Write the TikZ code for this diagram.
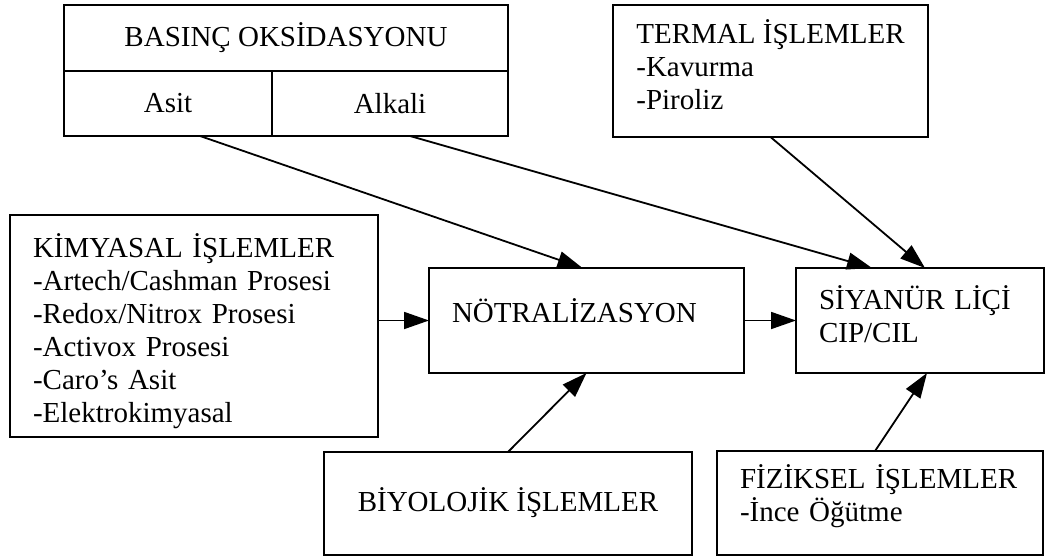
\documentclass[tikz,border=0pt]{standalone}
\usepackage{fontspec}
\setmainfont{Liberation Serif}
\usetikzlibrary{arrows.meta,positioning}
\hyphenpenalty=10000
\exhyphenpenalty=10000

\begin{document}
\begin{tikzpicture}[x=1pt,y=-1pt]
\tikzset{
block/.style={rectangle,draw=black,line width=2.8pt,inner ysep=0pt,outer sep=0pt,
  font=\fontsize{29}{33}\selectfont},
leftblock/.style={block,align=left,inner xsep=23pt},
myarrow/.style={-{Triangle[length=25pt,width=17pt]}, line width=1.8pt},
}
\clip (0,0) rectangle (1049,559);

% pressure oxidation table
\node [block, minimum width=444pt, minimum height=66pt] (basinc) at (286,38) {BASIN\c{C} OKS\.IDASYONU};
\node [block, minimum width=208pt, minimum height=65pt] (asit) at (168,103.5) {Asit};
\node [block, minimum width=236pt, minimum height=65pt] (alkali) at (390,103.5) {Alkali};

\node [block, align=left, minimum width=315pt, minimum height=132pt, text height=91pt, text depth=13pt] (termal) at (770.5,71)
  {TERMAL \.I\c{S}LEMLER\\-Kavurma\\-Piroliz};
\node [leftblock, text width=322pt, minimum height=222pt, text height=33pt, text depth=171pt] (kimya) at (194,326)
  {K\.IMYASAL \.I\c{S}LEMLER\\-Artech/Cashman Prosesi\\-Redox/Nitrox Prosesi\\-Activox Prosesi\\-Caro's Asit\\-Elektrokimyasal};
\node [leftblock, text width=269pt, minimum height=105pt, text depth=20pt] (notr) at (586.5,320.5)
  {N\"OTRAL\.IZASYON};
\node [leftblock, text width=202pt, minimum height=105pt, text height=25pt, text depth=48pt, right=52pt of notr] (siyanur)
  {S\.IYAN\"UR L\.I\c{C}\.I\\CIP/CIL};
\node [block, minimum width=368pt, minimum height=103pt, text depth=8pt] (biyo) at (508,503.5)
  {B\.IYOLOJ\.IK \.I\c{S}LEMLER};
\node [leftblock, text width=280pt, minimum height=104pt, text height=25pt, text depth=55pt] (fizik) at (880,503)
  {F\.IZ\.IKSEL \.I\c{S}LEMLER\\-\.Ince \"O\u{g}\"utme};

\draw[myarrow] (kimya.east |- notr.west) -- (notr.west);
\draw[myarrow] (notr.east) -- (siyanur.west);
\draw[myarrow] ([xshift=32pt]asit.south) -- ([xshift=-4pt]notr.north);
\draw[myarrow] ([xshift=20pt]alkali.south) -- ([xshift=-48pt]siyanur.north);
\draw[myarrow] (termal.south) -- ([xshift=5pt]siyanur.north);
\draw[myarrow] (biyo.north) -- (notr.south);
\draw[myarrow] ([xshift=-5pt]fizik.north) -- ([xshift=7pt]siyanur.south);
\end{tikzpicture}
\end{document}
